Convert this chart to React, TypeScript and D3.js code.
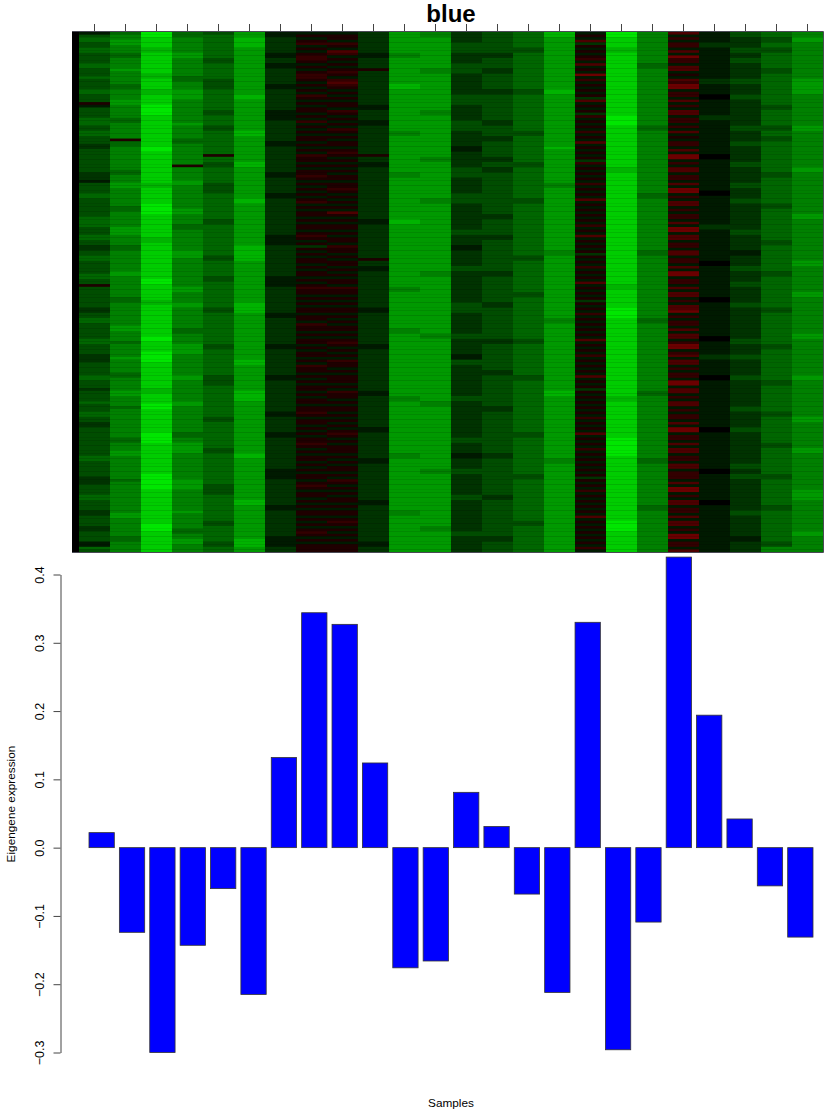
import React, { useRef, useEffect } from "react";
import * as d3 from "d3";

// eigengene value per sample
const eigengene = [
  0.022, -0.124, -0.3, -0.143, -0.06, -0.215, 0.132, 0.344, 0.327, 0.124, -0.176, -0.166,
  0.081, 0.031, -0.068, -0.212, 0.33, -0.296, -0.109, 0.4255, 0.194, 0.042, -0.056, -0.131,
];
const yTicks = [-0.3, -0.2, -0.1, 0, 0.1, 0.2, 0.3, 0.4];

// heatmap, one string per sample, top to bottom
// 0-9 = green level, a-e = red level
const heatColumns = [
  "1344334433 3344333433 3344333a13 3334443344 3332233333 3333222133 3344333333 3444433344 3322334433 3334433a33 3333332233 4433333344 3333222333 3344333233 3343334433 2233333333 3334433333 3222333344 3333223333 2233331143",
  "4556655544 5555655555 4455556655 5554455555 5a44555555 5554455566 5555555445 5555566655 5544555555 5566555555 5544555555 5556655554 5555565555 5445555566 5555455555 5555554455 5665555555 5545555555 5555566555 5555445555",
  "9988887788 8888887788 8877888899 9988888888 8888998888 8888888877 8888889999 8888888887 7888888888 8888899888 8887788888 8888888998 8889999888 8888888778 8889988888 8888999988 8888888888 9999998888 8888888889 9988888888",
  "4455555566 5555555445 5566665555 5555565555 5445555555 5a55555665 5555555566 5555445555 5555666555 5555555566 5555665555 5555445555 6666555555 5566555555 5566555555 5555445566 6655555555 5566665555 5555655555 5445566555",
  "3444444444 3344444433 3344444444 3344443344 4444444a44 3344444433 3344444444 4433444444 4444443344 4444334444 4444443344 4444444444 3344444444 4433334444 4444444433 4444444444 3344444444 4444333344 4444444433 4444443344",
  "6677776666 6666666666 6666776666 6666666677 6666666666 7766666666 6666776666 6666666666 6677777766 6666666666 6666777766 6666666666 6666667766 6666666677 7766666666 6666666666 6677666666 6666666666 7766666666 6666677766",
  "1122222211 2211222222 1122222222 1111222222 2211222222 2222112222 2211222222 2222222211 1122222222 2222111122 2222222211 2222222222 1122222222 2211222222 2222221122 2222112222 2222222211 1122222222 2211222222 2222111122",
  "1a1ab1a1ab ba1a1abba1 a1a1ba1a1a a1a1b1a1a1 aa1a1a1baa 1a1aaba1a1 a1a1ab1a1a a1a1aa1aba 1a2a1a1aa1 a1aa1a1aba a1a1a1aa1a a1baa1a1aa 1a1aa1a1ba a1a1a1aa1a 1aa1aaba1a a1a1a1aaba 1a1aa1a1a1 aa1aba1aa1 a1a1aa1a1a 1aba1a1aaa",
  "1aa1ba1cb1 a1a1aba1bc ba1a1a1aa1 ba1a1a1ba1 a1aa1aba1a 1a1a1aa1aa ba1a1a1a1c a1a1aa1a1a a1baa1a1aa 1a1a1aa1ba a1a1a1aa1a 1a1aa1a1ab a1a1a1baa1 a1aaa1a1ba a1a1aa1a1a 1a1aba1a1a aa1a1a1aa1 a1ba1a1a1a a1a1aa1aba 1a1a1a1aaa",
  "2222222211 2222a22222 2222222211 2222112222 2222222a22 1122222222 2222222222 2211222222 2222222a22 1122222222 2222221122 2222222222 1122222222 2222222211 2222222222 2211222222 2222112222 2222222222 1122222222 2222221122",
  "6666666655 6666666666 7766666666 6666666655 6666666666 6666556666 6666666666 6677666666 6666666666 6666666655 6666666666 6666556666 6666666666 6666666666 5566666666 6666666666 6655666666 6666666666 6666556666 6666666666",
  "5566666666 6666556666 6666666666 5566666666 6666666655 6666666666 6666556666 6666666666 6666666666 6655666666 6666666666 6666665566 6666666666 6666666666 6655666666 6666666666 6666666655 6666666666 6666666666 5566666666",
  "2222333322 2233332222 2222333322 2222333322 2222112222 2233332222 2233332222 2222223322 2211222222 3322222222 2222333322 2222223322 2222113322 2222222222 3322222222 2222223322 2211222233 2222222233 2222222222 2233222222",
  "3333333322 3333223333 3322333333 3333223333 2233333322 3322333333 3333333333 2233333322 3333333333 3322333333 3333223333 3333333322 3333333333 2233333333 3333223333 3333333333 3322333333 3333333322 3333333333 3333223333",
  "4444443344 4444444444 4433444444 4444444433 4444444444 3344444444 4444334444 4444444444 4444443344 4444444444 3344444444 4444444433 4444444444 4433444444 4444444444 4444334444 4444444444 3344444444 4444444433 4444444444",
  "7766666666 6666666666 6677666666 6666666666 6666766666 6666666655 6666666666 6666666666 6666556666 6666666666 6666666666 5566666666 6666666666 6666666677 6666666666 6666666666 6666556666 6666666666 6666666666 6666666666",
  "1a1c2a1a1a b1c1a1d1b1 a1a1a2c1a1 a2b1a1a1b1 a1c1a1a1a2 b1a1a1a1b1 a1a1c1a1a1 a1a1b1a1c1 a1a1a2a1a1 b1a1a1c1a1 a1a2a1a1b1 a1a1a1a1c1 a1a1b1a1a1 a1c1a1a2a1 a1a1a1a1b1 a1a1c1a1a1 b1a1a1a1a1 a2a1a1b1a1 a1a1a1c1a1 a1a1a1a1b1",
  "9988887788 8888888888 8888888888 8899998888 8888888888 8877888888 8888888888 8888888888 8888888888 8888888778 8888889999 8888888888 8888888888 8888888888 7788888888 8888889999 9998888888 8888888888 8888888899 9988888888",
  "5555555555 5544555555 5555555555 5555554455 5555555555 5555555555 5544555555 5555555555 5555445555 5555555555 5555555555 4455555555 5555555555 5555555544 5555555555 5555555555 5555445555 5555555555 5544555555 5555555555",
  "c1b1bb1c1d bb1cc1a1cb dd1bb1c1b1 cc1bb1b1c1 a1bb1c1dd1 b1cc1bb1c1 dd1b1cc1b1 bb1c1dd1cc 1bb1cc1bb1 c1dd1bb1c1 cc1b1ccd1b 1bb1c1cc1b dd1bc1cc1b 1bb1dd1cc1 b1cc1b1bb1 c1dd1bb1c1 cc1bb1cc1b bb1c1dd1b1 cc1bb1c1cc 1b1dd1bb1c",
  "1111221111 1111111122 1111001111 1122111111 1111111001 1111111111 1001111111 1111221111 1111111100 1111111111 1100111111 1111111001 1111221111 1100111111 1111111111 1100111111 1111111100 1111111111 0011111111 1111111111",
  "3322223322 3322222233 2222332222 2222223322 2233222222 3322222233 2222332222 2222223322 2222112222 3322223322 2222332222 2222222233 2222332222 2233222222 2222332222 2233222222 2222223322 3322222222 2222332222 2222112222",
  "4433443344 4444334444 4444444433 4444443344 3344444444 4444334444 4444443344 4444444444 3344444444 4433444444 4444443344 4444444444 3344444444 4444334444 4444443344 4444444433 4444444444 3344444444 4433444444 4444443355",
  "5566555555 5555555566 6666555555 5555556655 5555555555 5566555555 5555555555 6655555555 5555555566 5555555555 6655555555 5555556655 5555555555 5566555555 5555555566 5555555555 6655555555 5555556666 5555555555 5566555555",
];

const rowCount = 200;
const redLevels = [0.12, 0.2, 0.3, 0.42, 0.6];

function decode(c: string) {
  if (c >= "a") return redLevels[c.charCodeAt(0) - 97];
  return -Number(c) / 10;
}

export default function App() {
  const ref = useRef<SVGSVGElement>(null);

  useEffect(() => {
    if (!ref.current) return;
    const svg = d3.select(ref.current);
    svg.selectAll("*").remove();
    const font = "'Liberation Sans', Arial, sans-serif";

    const color = d3.scaleLinear<string>()
      .domain([-1, 0, 1])
      .range(["#00ff00", "#000000", "#ff0000"]);

    const samples = d3.range(eigengene.length);
    const xHeat = d3.scaleBand<number>().domain(samples).range([79, 823]);
    const yHeat = d3.scaleBand<number>().domain(d3.range(rowCount)).range([32, 552]);

    // black strip and background behind the cells
    svg.append("rect")
      .attr("x", 72)
      .attr("y", 32)
      .attr("width", 751)
      .attr("height", 520)
      .attr("fill", "#000");

    heatColumns.forEach((col, i) => {
      const cells = col.replace(/ /g, "").split("").slice(0, rowCount);
      svg.append("g")
        .selectAll("rect")
        .data(cells)
        .enter()
        .append("rect")
        .attr("x", xHeat(i)!)
        .attr("y", (_, r) => yHeat(r)!)
        .attr("width", xHeat.bandwidth())
        .attr("height", yHeat.bandwidth() + 0.3)
        .attr("fill", d => color(decode(d)));
    });

    // heatmap frame
    svg.append("path")
      .attr("d", "M72,31.5H823.5V552.5H72")
      .attr("fill", "none")
      .attr("stroke", "#4a4a55")
      .attr("stroke-width", 1);

    // ticks on top
    svg.append("g")
      .selectAll("line")
      .data(samples)
      .enter()
      .append("line")
      .attr("x1", d => xHeat(d)! + xHeat.bandwidth() / 2)
      .attr("x2", d => xHeat(d)! + xHeat.bandwidth() / 2)
      .attr("y1", 24)
      .attr("y2", 31)
      .attr("stroke", "#444");

    svg.append("text")
      .attr("x", 451)
      .attr("y", 22)
      .attr("text-anchor", "middle")
      .attr("font-family", font)
      .attr("font-weight", "bold")
      .attr("font-size", 24)
      .text("blue");

    // bars
    const xBar = d3.scaleBand<number>()
      .domain(samples)
      .range([89, 813])
      .paddingInner(0.2 / 1.2);
    const yBar = d3.scaleLinear().domain([-0.3, 0.4]).range([1052.5, 574.5]);

    svg.append("g")
      .selectAll("rect")
      .data(eigengene)
      .enter()
      .append("rect")
      .attr("x", (_, i) => xBar(i)!)
      .attr("y", d => Math.min(yBar(d), yBar(0)))
      .attr("width", xBar.bandwidth())
      .attr("height", d => Math.abs(yBar(d) - yBar(0)))
      .attr("fill", "#0000ff")
      .attr("stroke", "#333")
      .attr("stroke-width", 0.8);

    const axis = d3.axisLeft(yBar)
      .tickValues(yTicks)
      .tickSize(7)
      .tickSizeOuter(0)
      .tickFormat(d => d3.format(".1f")(d as number).replace("-", "\u2212"));

    const gAxis = svg.append("g")
      .attr("transform", "translate(60.5,0)")
      .call(axis);
    gAxis.selectAll("path, line").attr("stroke", "#444");
    gAxis.selectAll<SVGTextElement, number>("text")
      .attr("font-family", font)
      .attr("font-size", 12.5)
      .attr("fill", "#000")
      .attr("text-anchor", "middle")
      .attr("x", null)
      .attr("dy", null)
      .attr("transform", "translate(-17,0) rotate(-90)");

    svg.append("text")
      .attr("transform", "translate(15,804) rotate(-90)")
      .attr("text-anchor", "middle")
      .attr("font-family", font)
      .attr("font-size", 11.8)
      .text("Eigengene expression");

    svg.append("text")
      .attr("x", 451)
      .attr("y", 1107)
      .attr("text-anchor", "middle")
      .attr("font-family", font)
      .attr("font-size", 11.8)
      .text("Samples");
  }, []);

  return (
    <svg
      ref={ref}
      width={829}
      height={1113}
      style={{ position: "absolute", left: 0, top: 0, background: "#fff" }}
    />
  );
}
